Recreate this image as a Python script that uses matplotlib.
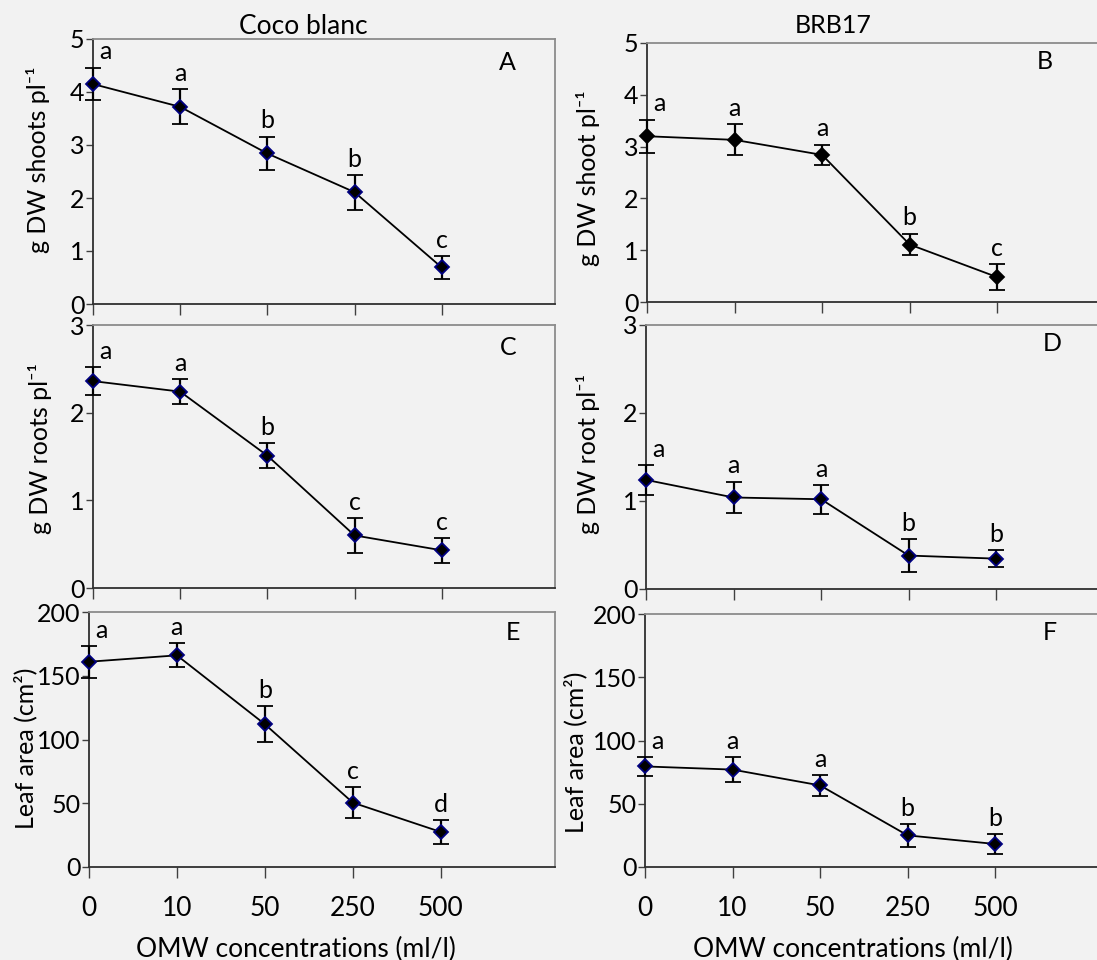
import matplotlib.pyplot as plt
import numpy as np

plt.rcParams['font.family'] = ['Lato', 'DejaVu Sans']

W, H = 1097, 960

conc = ['0', '10', '50', '250', '500']
x = np.arange(len(conc))

# A - Coco blanc, shoots
shoot_cb = [4.15, 3.72, 2.84, 2.11, 0.69]
shoot_cb_err = [0.31, 0.33, 0.32, 0.33, 0.21]
shoot_cb_let = ['a', 'a', 'b', 'b', 'c']
# B - BRB17, shoots
shoot_brb = [3.2, 3.13, 2.84, 1.11, 0.48]
shoot_brb_err = [0.32, 0.30, 0.20, 0.21, 0.25]
shoot_brb_let = ['a', 'a', 'a', 'b', 'c']
# C - Coco blanc, roots
root_cb = [2.36, 2.24, 1.51, 0.6, 0.43]
root_cb_err = [0.16, 0.145, 0.145, 0.2, 0.14]
root_cb_let = ['a', 'a', 'b', 'c', 'c']
# D - BRB17, roots
root_brb = [1.24, 1.04, 1.02, 0.38, 0.345]
root_brb_err = [0.17, 0.18, 0.165, 0.185, 0.1]
root_brb_let = ['a', 'a', 'a', 'b', 'b']
# E - Coco blanc, leaf area
leaf_cb = [161, 166, 112, 50.5, 27.5]
leaf_cb_err = [12.5, 9.5, 14, 12, 9.5]
leaf_cb_let = ['a', 'a', 'b', 'c', 'd']
# F - BRB17, leaf area
leaf_brb = [79.5, 77, 64.5, 25, 18.2]
leaf_brb_err = [7.5, 10, 8, 8.8, 8]
leaf_brb_let = ['a', 'a', 'a', 'b', 'b']

bg = '#f2f2f2'
fs = 18
fig = plt.figure(figsize=(W / 100, H / 100), dpi=100, facecolor=bg)


def px_axes(left, top, bottom, right):
    return fig.add_axes([left / W, 1 - bottom / H, (right - left) / W, (bottom - top) / H])


def panel(ax, y, err, let, ymax, ystep, ylabel, tag, tagpos, mec='#000080', bottom_row=False):
    ax.set_facecolor(bg)
    ax.errorbar(x, y, yerr=err, color='black', lw=1.3, ecolor='black', elinewidth=1.6,
                capsize=6, capthick=1.6, marker='D', ms=7.5, mfc='black', mec=mec, mew=1.3,
                zorder=3, clip_on=False)
    for i, (v, e, l) in enumerate(zip(y, err, let)):
        dx = 9 if i == 0 else 0
        ax.annotate(l, (x[i], v + e), xytext=(dx, 3), textcoords='offset points',
                    ha='center', va='bottom', fontsize=fs)
    ax.set_xlim(0, 5.3)
    ax.set_ylim(0, ymax)
    ax.set_yticks(np.arange(0, ymax + ystep / 2, ystep))
    ax.set_xticks(x)
    if bottom_row:
        ax.set_xticklabels(conc, fontsize=fs + 1)
    else:
        ax.set_xticklabels([])
    ax.tick_params(axis='x', direction='out', length=8, width=1, color='#404040', pad=13)
    ax.tick_params(axis='y', direction='out', length=5, width=1, color='#404040', pad=1,
                   labelsize=fs)
    for s in ['left', 'bottom']:
        ax.spines[s].set_color('#303030')
        ax.spines[s].set_linewidth(1.3)
    for s in ['top', 'right']:
        ax.spines[s].set_color('#8c8c8c')
        ax.spines[s].set_linewidth(1.3)
    ax.set_ylabel(ylabel, fontsize=fs)
    ax.text(tagpos[0], tagpos[1], tag, transform=ax.transAxes, ha='center', va='center',
            fontsize=fs)


axA = px_axes(93, 39, 304, 555)
axB = px_axes(647, 43, 302, 1111)
axC = px_axes(93, 325, 588, 555)
axD = px_axes(646, 325, 589, 1110)
axE = px_axes(89, 612, 867, 555)
axF = px_axes(645, 614, 867, 1109)

panel(axA, shoot_cb, shoot_cb_err, shoot_cb_let, 5, 1, 'g DW shoots pl⁻¹', 'A', (0.896, 0.913))
panel(axB, shoot_brb, shoot_brb_err, shoot_brb_let, 5, 1, 'g DW shoot pl⁻¹', 'B', (0.858, 0.927),
      mec='black')
panel(axC, root_cb, root_cb_err, root_cb_let, 3, 1, 'g DW roots pl⁻¹', 'C', (0.898, 0.916))
panel(axD, root_brb, root_brb_err, root_brb_let, 3, 1, 'g DW root pl⁻¹', 'D', (0.875, 0.93))
panel(axE, leaf_cb, leaf_cb_err, leaf_cb_let, 200, 50, 'Leaf area (cm²)', 'E', (0.91, 0.92),
      bottom_row=True)
panel(axF, leaf_brb, leaf_brb_err, leaf_brb_let, 200, 50, 'Leaf area (cm²)', 'F', (0.873, 0.925),
      bottom_row=True)

axA.yaxis.set_label_coords((50 - 93) / 462, 0.543)
axB.yaxis.set_label_coords((600 - 647) / 464, 0.479)
axC.yaxis.set_label_coords((52 - 93) / 462, 0.532)
axD.yaxis.set_label_coords((600 - 646) / 464, 0.511)
axE.yaxis.set_label_coords((37 - 89) / 466, 0.467)
axF.yaxis.set_label_coords((587 - 645) / 464, 0.455)

axA.set_title('Coco blanc', fontsize=fs + 1, x=(303 - 93) / 462, pad=3)
axB.set_title('BRB17', fontsize=fs, x=(833 - 647) / 464, pad=7)

axE.set_xlabel('OMW concentrations (ml/l)', fontsize=fs + 1)
axE.xaxis.set_label_coords((296 - 89) / 466, (867 - 937) / 255)
axF.set_xlabel('OMW concentrations (ml/l)', fontsize=fs + 1)
axF.xaxis.set_label_coords((853 - 645) / 464, (867 - 937) / 253)

fig.savefig('out.png', dpi=100, facecolor=bg)
